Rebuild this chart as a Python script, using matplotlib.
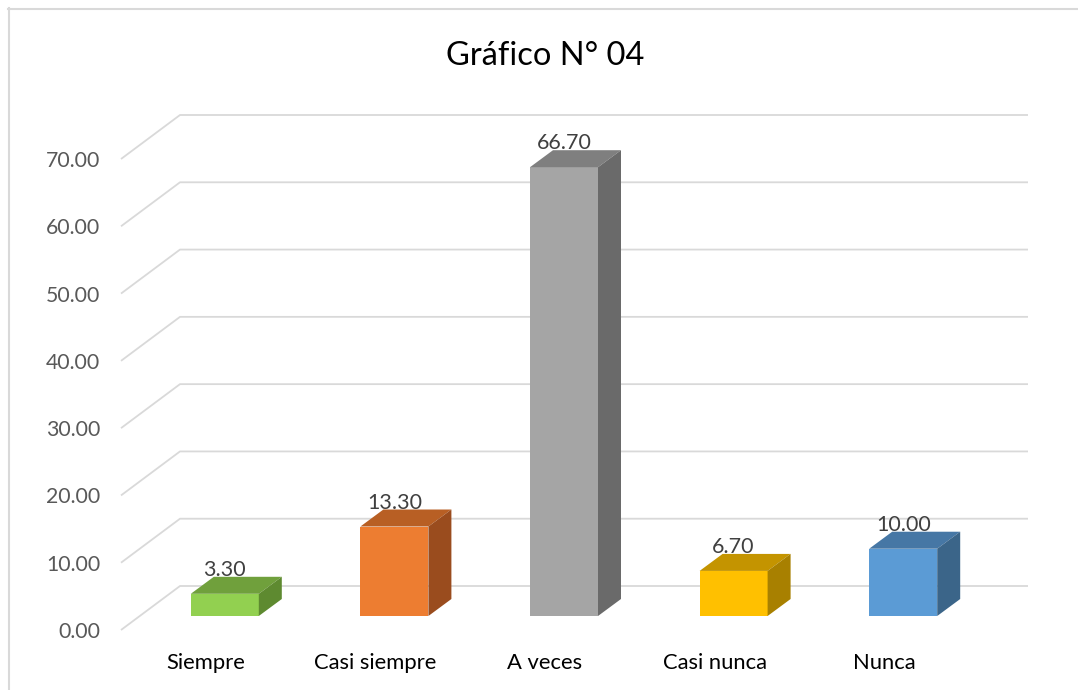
import matplotlib.pyplot as plt
import matplotlib.transforms as mtransforms
from matplotlib.lines import Line2D
from matplotlib.patches import Polygon

plt.rcParams['font.family'] = ['Lato', 'DejaVu Sans']

categories = ['Siempre', 'Casi siempre', 'A veces', 'Casi nunca', 'Nunca']
values = [3.30, 13.30, 66.70, 6.70, 10.00]
y_ticks = [0, 10, 20, 30, 40, 50, 60, 70]
title = 'Gráfico N° 04'

# front, top, side shades per bar
front_colors = ['#92d050', '#ed7d31', '#a5a5a5', '#ffc000', '#5b9bd5']
top_colors = ['#70a03c', '#b85f24', '#7f7f7f', '#c49400', '#4677a5']
side_colors = ['#5e8a30', '#9a4c1e', '#6a6a6a', '#a88000', '#3b6589']

W, H = 1078, 690
fig = plt.figure(figsize=(W / 100, H / 100), dpi=100)
ax = fig.add_axes([121 / W, 60 / H, 848 / W, 471 / H])
ax.set_xlim(-0.5, len(categories) - 0.5)
ax.set_ylim(0, 70)
for s in ax.spines.values():
  s.set_visible(False)

# pixel -> data conversions
px_x = 5 / 848
px_y = 70 / 471

depth_x, depth_y = 59 * px_x, 44 * px_y      # floor/wall depth
off_x, off_y = 19 * px_x, 14 * px_y          # bar front offset
bar_dx, bar_dy = 23 * px_x, 17 * px_y        # bar depth
bar_w = 68 * px_x

grid_c = '#d9d9d9'
x0, x1 = -0.5, len(categories) - 0.5
for v in y_ticks:
  ax.plot([x0, x0 + depth_x, x1 + depth_x], [v, v + depth_y, v + depth_y],
          color=grid_c, lw=1.3, clip_on=False, zorder=1, solid_capstyle='butt')

for i, v in enumerate(values):
  l = i - bar_w / 2 + off_x
  r = i + bar_w / 2 + off_x
  b = off_y
  t = v + off_y
  ax.add_patch(Polygon([(l, b), (r, b), (r, t), (l, t)], closed=True,
                       facecolor=front_colors[i], edgecolor='none', clip_on=False, zorder=3))
  ax.add_patch(Polygon([(l, t), (r, t), (r + bar_dx, t + bar_dy), (l + bar_dx, t + bar_dy)],
                       closed=True, facecolor=top_colors[i], edgecolor='none', clip_on=False, zorder=3))
  ax.add_patch(Polygon([(r, b), (r, t), (r + bar_dx, t + bar_dy), (r + bar_dx, b + bar_dy)],
                       closed=True, facecolor=side_colors[i], edgecolor='none', clip_on=False, zorder=3))
  ax.text(i + off_x, t + bar_dy + 1 * px_y, f'{v:.2f}', ha='center', va='baseline',
          fontsize=15.5, color='#404040', zorder=4)

ax.set_xticks([])
ax.set_yticks(y_ticks)
ax.set_yticklabels([f'{v:.2f}' for v in y_ticks], fontsize=15.3, color='#595959')
ax.tick_params(axis='y', length=0, pad=15)

lab_tr = ax.transData + mtransforms.ScaledTranslation(0, -39 / 100, fig.dpi_scale_trans)
for i, c in enumerate(categories):
  ax.text(i, 0, c, ha='center', va='baseline', fontsize=15.8, color='#000000', transform=lab_tr)

fig.text(545 / W, 1 - 65 / H, title, ha='center', va='baseline', fontsize=23.5, color='#000000')

# chart border (top and left visible)
fig.add_artist(Line2D([8 / W, 1], [1 - 8.5 / H, 1 - 8.5 / H], color=grid_c, lw=1.5))
fig.add_artist(Line2D([8.5 / W, 8.5 / W], [0, 1 - 8 / H], color=grid_c, lw=1.5))

fig.savefig('out.png', dpi=100)
